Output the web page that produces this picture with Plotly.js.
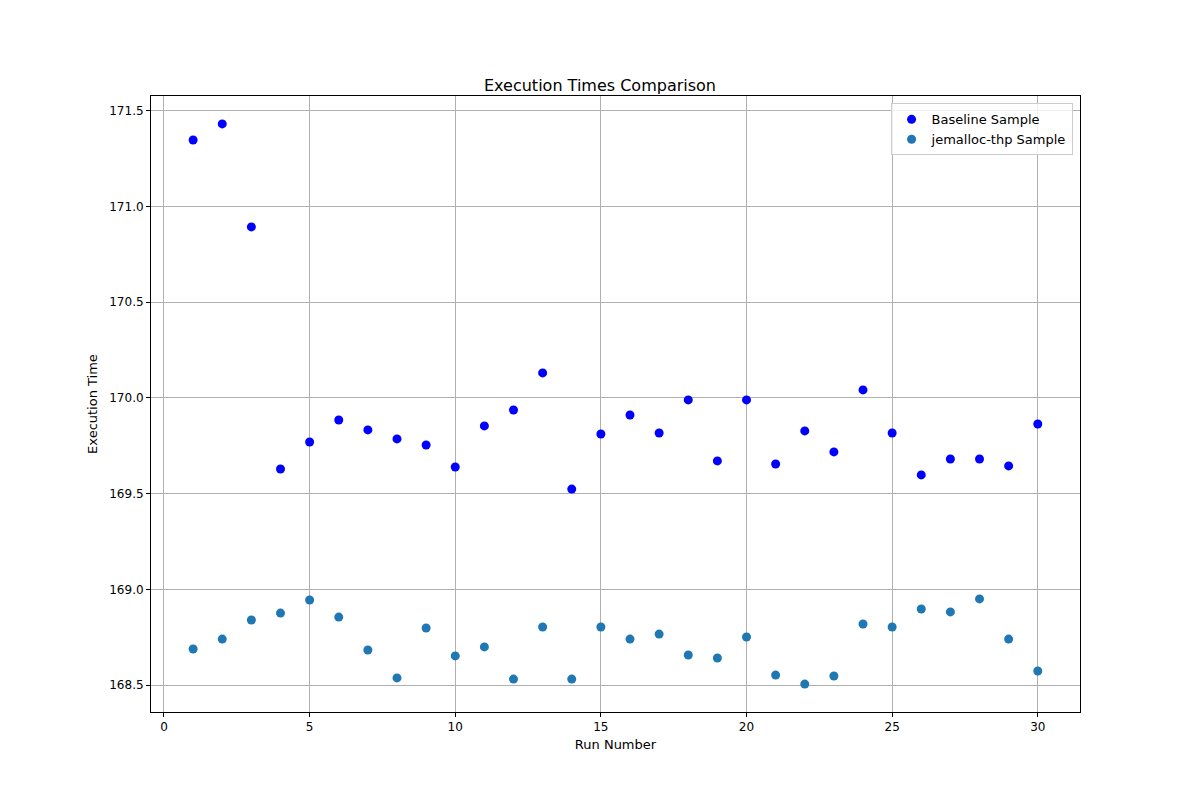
<!DOCTYPE html>
<html>
<head>
<meta charset="utf-8">
<script src="https://cdn.plot.ly/plotly-3.0.1.min.js"></script>
<style>body{margin:0;background:#fff}#chart{width:1200px;height:800px}</style>
</head>
<body>
<div id="chart"></div>
<script>
const runs = Array.from({ length: 30 }, (_, i) => i + 1);
const baseline = [171.348, 171.432, 170.894, 169.629, 169.770, 169.885, 169.833, 169.786, 169.754, 169.639,
    169.854, 169.937, 170.131, 169.524, 169.812, 169.911, 169.817, 169.990, 169.671, 169.990,
    169.655, 169.828, 169.718, 170.042, 169.817, 169.598, 169.681, 169.681, 169.645, 169.864];
const jemalloc = [168.688, 168.740, 168.840, 168.876, 168.944, 168.855, 168.683, 168.537, 168.798, 168.652,
    168.699, 168.531, 168.803, 168.531, 168.803, 168.740, 168.766, 168.657, 168.641, 168.751,
    168.552, 168.505, 168.547, 168.819, 168.803, 168.897, 168.882, 168.950, 168.740, 168.573];

const traces = [
    { x: runs, y: baseline, mode: "markers", type: "scatter", name: "Baseline Sample",
      marker: { color: "#0000ff", size: 9 } },
    { x: runs, y: jemalloc, mode: "markers", type: "scatter", name: "jemalloc-thp Sample",
      marker: { color: "#1f77b4", size: 9 } },
];

const axisCommon = {
    showgrid: true, gridcolor: "#b0b0b0", gridwidth: 1,
    showline: true, linecolor: "#000", mirror: true, linewidth: 1,
    ticks: "outside", ticklen: 4, tickcolor: "#000", zeroline: false,
    tickfont: { size: 12, color: "#000" },
};

const layout = {
    width: 1200, height: 800,
    paper_bgcolor: "#fff", plot_bgcolor: "#fff",
    font: { family: "DejaVu Sans", color: "#000" },
    margin: { l: 151, r: 120, t: 96, b: 88 },
    title: { text: "Execution Times Comparison", font: { size: 16 }, x: 0.5, xanchor: "center",
             yref: "paper", y: 1, yanchor: "bottom", pad: { b: 5 } },
    xaxis: Object.assign({}, axisCommon, {
        range: [-0.446, 31.45], tickvals: [0, 5, 10, 15, 20, 25, 30],
        title: { text: "Run Number", font: { size: 13 }, standoff: 6 },
    }),
    yaxis: Object.assign({}, axisCommon, {
        range: [168.359, 171.578], tickvals: [168.5, 169, 169.5, 170, 170.5, 171, 171.5],
        ticktext: ["168.5", "169.0", "169.5", "170.0", "170.5", "171.0", "171.5"],
        title: { text: "Execution Time", font: { size: 13 }, standoff: 8 },
    }),
    legend: {
        x: 0.992, y: 0.988, xanchor: "right", yanchor: "top",
        bgcolor: "rgba(255,255,255,0.8)", bordercolor: "#ccc", borderwidth: 1,
        font: { size: 13 },
    },
    showlegend: true,
};

Plotly.newPlot("chart", traces, layout, { displayModeBar: false });
</script>
</body>
</html>
